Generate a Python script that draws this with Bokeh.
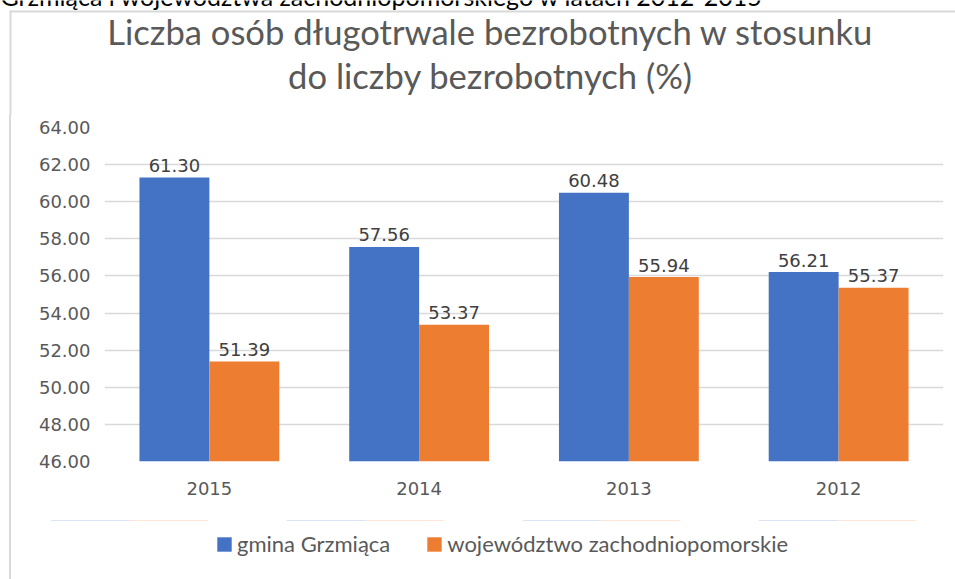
from bokeh.plotting import figure
from bokeh.models import (ColumnDataSource, FactorRange, Range1d, FixedTicker,
                          NumeralTickFormatter, Legend, LegendItem, BoxAnnotation,
                          Column, Row, Spacer)
from bokeh.transform import dodge
from bokeh.core.properties import value
from bokeh.embed import file_html
from bokeh.resources import INLINE

# ---- data ----
years = ["2015", "2014", "2013", "2012"]
gmina = [61.30, 57.56, 60.48, 56.21]
woj = [51.39, 53.37, 55.94, 55.37]
y_ticks = [46, 48, 50, 52, 54, 56, 58, 60, 62, 64]
series_names = ["gmina Grzmiąca", "województwo zachodniopomorskie"]
title_lines = ["Liczba osób długotrwale bezrobotnych w stosunku",
               "do liczby bezrobotnych (%)"]
caption_text = "Grzmiąca i województwa zachodniopomorskiego w latach 2012-2015"

# ---- style ----
BLUE = "#4472C4"
ORANGE = "#ED7D31"
TXT = "#595959"
GRID = "#d9d9d9"
BORDER = "#d9d9d9"
W, H = 955, 579
HEAD_H, LEG_H = 115, 59
MAIN_H = H - HEAD_H - LEG_H
EDGE = 9          # left margin before the border line
LINE_W = 2        # border line width
INNER_W = W - EDGE - LINE_W
NUM_FONT = "DejaVu Sans"
NUM_SIZE = "18px"


def bare(width, height, xr, yr):
    f = figure(width=width, height=height, x_range=xr, y_range=yr,
               output_backend="svg", toolbar_location=None,
               x_axis_location=None, y_axis_location=None,
               min_border=0, min_border_left=0, min_border_right=0,
               min_border_top=0, min_border_bottom=0)
    f.grid.visible = False
    f.outline_line_color = None
    f.background_fill_color = "white"
    f.border_fill_color = "white"
    return f


def border_strip(height):
    return Spacer(width=LINE_W, height=height, margin=(0, 0, 0, EDGE),
                  styles={"background-color": BORDER})


# ---- header: cropped caption, border, title ----
head = bare(W, HEAD_H, Range1d(0, W), Range1d(HEAD_H, 0))
head.segment(x0=[EDGE], y0=[11], x1=[W], y1=[11], line_color=BORDER, line_width=LINE_W)
head.segment(x0=[EDGE + 1], y0=[10], x1=[EDGE + 1], y1=[HEAD_H],
             line_color=BORDER, line_width=LINE_W)
head.text(x=[0], y=[-5], text=[caption_text], text_font=value("Lato"),
          text_font_size="25px", text_color="black", text_baseline="middle",
          text_align="left")
head.text(x=[490, 490], y=[31, 75], text=title_lines, text_font=value("Lato"),
          text_font_size="34.6px", text_color=TXT, text_baseline="middle",
          text_align="center")

# ---- main chart ----
src = ColumnDataSource(dict(
    year=years, gmina=gmina, woj=woj,
    gmina_lbl=[f"{v:.2f}" for v in gmina],
    woj_lbl=[f"{v:.2f}" for v in woj],
))

x0 = EDGE + LINE_W
p = figure(x_range=FactorRange(*years), y_range=Range1d(y_ticks[0], y_ticks[-1]),
           width=INNER_W, height=MAIN_H, output_backend="svg",
           toolbar_location=None,
           min_border_left=104 - x0, min_border_right=W - 943,
           min_border_top=127 - HEAD_H, min_border_bottom=HEAD_H + MAIN_H - 461)
p.outline_line_color = None
p.background_fill_color = "white"
p.border_fill_color = "white"

base = y_ticks[0]
r1 = p.vbar(x=dodge("year", -1/6, range=p.x_range), top="gmina", bottom=base,
            width=1/3, source=src, fill_color=BLUE, line_color=None)
r2 = p.vbar(x=dodge("year", 1/6, range=p.x_range), top="woj", bottom=base,
            width=1/3, source=src, fill_color=ORANGE, line_color=None)

for col, lbl, off in (("gmina", "gmina_lbl", -1/6), ("woj", "woj_lbl", 1/6)):
    p.text(x=dodge("year", off, range=p.x_range), y=col, text=lbl, source=src,
           text_align="center", text_baseline="middle", y_offset=-12,
           text_font=value(NUM_FONT), text_font_size=NUM_SIZE,
           text_color="#404040")

p.yaxis.ticker = FixedTicker(ticks=y_ticks)
p.yaxis.formatter = NumeralTickFormatter(format="0.00")
for ax in (p.xaxis[0], p.yaxis[0]):
    ax.axis_line_color = None
    ax.major_tick_line_color = None
    ax.minor_tick_line_color = None
    ax.major_tick_out = 0
    ax.major_tick_in = 0
    ax.minor_tick_out = 0
    ax.major_label_text_font = NUM_FONT
    ax.major_label_text_font_size = NUM_SIZE
    ax.major_label_text_color = TXT
p.yaxis.major_label_standoff = 14
p.xaxis.major_label_standoff = 20

p.xgrid.grid_line_color = None
p.ygrid.grid_line_color = GRID
p.ygrid.grid_line_width = 1.5
p.ygrid.ticker = FixedTicker(ticks=y_ticks)

# ---- legend strip: series bars are covered by a white box, only the legend shows ----
leg = bare(INNER_W, LEG_H, FactorRange(*years), Range1d(0, 1))
lr1 = leg.vbar(x=dodge("year", -1/6, range=leg.x_range), top="gmina", bottom="gmina",
               width=1/3, source=src, fill_color=BLUE, line_color=None)
lr2 = leg.vbar(x=dodge("year", 1/6, range=leg.x_range), top="woj", bottom="woj",
               width=1/3, source=src, fill_color=ORANGE, line_color=None)
leg.add_layout(BoxAnnotation(fill_color="white", fill_alpha=1.0, line_color=None))
legend = Legend(items=[LegendItem(label=series_names[0], renderers=[lr1]),
                       LegendItem(label=series_names[1], renderers=[lr2])],
                orientation="horizontal", location=(215 - x0, 22),
                label_text_font="Lato", label_text_font_size="22px",
                label_text_color=TXT, glyph_width=18, glyph_height=18,
                label_standoff=4, spacing=35, border_line_color=None,
                background_fill_alpha=0, margin=0, padding=0)
leg.add_layout(legend, "center")

layout = Column(children=[
    head,
    Row(children=[border_strip(MAIN_H), p], spacing=0),
    Row(children=[border_strip(LEG_H), leg], spacing=0),
], spacing=0)

open("out.html", "w").write(file_html(layout, INLINE))
